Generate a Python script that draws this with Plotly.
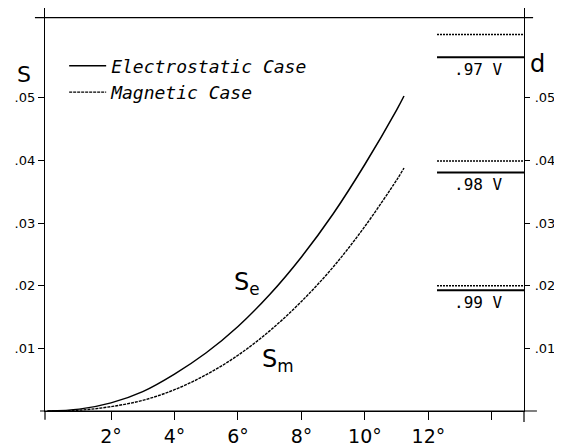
import plotly.graph_objects as go

# deflection angle (degrees) and curve values
theta = [0, 1, 2, 3, 4, 5, 6, 7, 8, 9, 10, 11, 11.23]
s_e = [0, 0.0003, 0.0013, 0.0031, 0.0059, 0.0093, 0.0135, 0.0186, 0.0246, 0.0315, 0.0394, 0.0481, 0.0503]
s_m = [0, 0.00013, 0.0007, 0.0017, 0.0034, 0.0058, 0.0089, 0.0128, 0.0175, 0.0230, 0.0295, 0.0369, 0.0388]

# d levels at the right
d_labels = [".97 V", ".98 V", ".99 V"]
d_e = [0.0565, 0.0381, 0.0193]
d_m = [0.0601, 0.0399, 0.0200]
d_x = [12.27, 15.01]

x_tickvals = [2, 4, 6, 8, 10, 12, 14]
x_ticktext = ["2°", "4°", "6°", "8°", "10°", "12°", ""]
y_tickvals = [0.01, 0.02, 0.03, 0.04, 0.05]
y_ticktext = [".01", ".02", ".03", ".04", ".05"]

MONO = "DejaVu Sans Mono"

fig = go.Figure()
fig.add_trace(go.Scatter(x=theta, y=s_e, mode="lines", name="Electrostatic Case",
                         line=dict(color="black", width=1.5, shape="spline")))
fig.add_trace(go.Scatter(x=theta, y=s_m, mode="lines", name="Magnetic Case",
                         line=dict(color="black", width=1.4, shape="spline", dash="3px,1px")))

for lab, ve, vm in zip(d_labels, d_e, d_m):
    fig.add_trace(go.Scatter(x=d_x, y=[ve, ve], mode="lines", showlegend=False,
                             line=dict(color="black", width=2), yaxis="y2"))
    fig.add_trace(go.Scatter(x=d_x, y=[vm, vm], mode="lines", showlegend=False,
                             line=dict(color="black", width=1.5, dash="2px,1px"), yaxis="y2"))
    fig.add_annotation(x=13.57, y=ve, yref="y2", text=lab, showarrow=False, yanchor="top",
                       yshift=-1, font=dict(size=16, color="black", family=MONO))

fig.add_annotation(x=6.27, y=0.0203, text="S<sub>e</sub>", showarrow=False,
                   font=dict(size=24, color="black", family="DejaVu Sans"))
fig.add_annotation(x=7.27, y=0.0080, text="S<sub>m</sub>", showarrow=False,
                   font=dict(size=24, color="black", family="DejaVu Sans"))

fig.add_annotation(xref="paper", yref="paper", x=-0.0626, y=0.872, text="S", showarrow=False,
                   font=dict(size=22, color="black", family="DejaVu Sans"))
fig.add_annotation(xref="paper", yref="paper", x=1.048, y=0.9, text="d", showarrow=False,
                   font=dict(size=24, color="black", family="DejaVu Sans"))

# frame lines
fig.add_shape(type="line", xref="paper", yref="y", x0=-0.021, x1=1.019, y0=0.0628, y1=0.0628,
              line=dict(color="black", width=1.2))
fig.add_shape(type="line", xref="paper", yref="paper", x0=-0.0104, x1=1.027, y0=0, y1=0,
              line=dict(color="black", width=1.2))
fig.add_shape(type="line", xref="paper", yref="paper", x0=0, x1=0, y0=0, y1=-0.022,
              line=dict(color="black", width=1.2))
fig.add_shape(type="line", xref="paper", yref="paper", x0=1, x1=1, y0=0, y1=-0.027,
              line=dict(color="black", width=1.2))

fig.update_layout(
    width=554, height=439,
    margin=dict(l=37, r=38, t=0, b=31),
    paper_bgcolor="white", plot_bgcolor="white",
    font=dict(family="DejaVu Sans", color="black"),
    showlegend=True,
    legend=dict(x=0.040, y=0.902, xanchor="left", yanchor="top", bgcolor="rgba(0,0,0,0)",
                font=dict(size=18, style="italic", color="black", family=MONO), itemwidth=37,
                tracegroupgap=0),
    xaxis=dict(range=[-0.079, 15.01], showgrid=False, zeroline=False, showline=True,
               linecolor="black", linewidth=1.2, ticks="outside", ticklen=8, tickcolor="black",
               tickvals=x_tickvals, ticktext=x_ticktext, tickfont=dict(size=19, color="black")),
    yaxis=dict(range=[0, 0.06435], showgrid=False, zeroline=False, showline=True,
               linecolor="black", linewidth=1.2, ticks="outside", ticklen=6, tickcolor="black",
               tickvals=y_tickvals, ticktext=y_ticktext,
               tickfont=dict(size=13, color="black"),
               ticklabelstandoff=0),
    yaxis2=dict(range=[0, 0.06435], overlaying="y", side="right", anchor="x", showgrid=False,
                zeroline=False, showline=True, linecolor="black", linewidth=1.2,
                ticks="outside", ticklen=5, tickcolor="black",
                tickvals=y_tickvals, ticktext=y_ticktext,
                tickfont=dict(size=13, color="black"),
                ticklabelstandoff=2),
)

fig.write_html("out.html")
